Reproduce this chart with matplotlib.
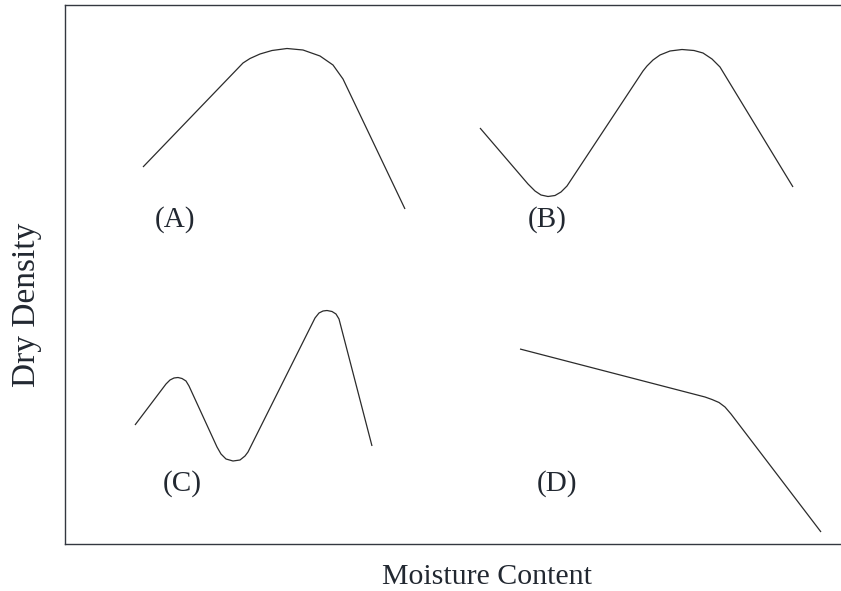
import matplotlib
matplotlib.use("Agg")
import matplotlib.pyplot as plt

plt.rcParams['font.family'] = ['Liberation Serif', 'DejaVu Serif']

# compaction curve shapes (arbitrary units)
a_x = [78, 178, 185, 195, 207, 222, 238, 255, 268, 278, 340]
a_y = [377, 481, 485.5, 490, 493.5, 495.5, 494, 488, 479, 465, 335]

b_x = [415, 463, 470, 476, 483, 490, 496, 502, 578, 582, 588, 595, 605, 617, 629, 638, 647, 655, 728]
b_y = [416, 360, 353, 349, 347.5, 348.5, 352, 358, 473, 478, 484, 489, 493, 494.5, 493.5, 491, 485, 477, 357]

c_x = [70, 101, 105, 109, 113, 117, 121, 124, 152, 156, 161, 168, 175, 180, 183,
       250, 254, 258, 262, 267, 271, 274, 307]
c_y = [119, 160, 164, 166, 166.5, 165.5, 163, 158, 97, 90, 85, 83, 84, 88, 92,
       226, 231, 233, 233.5, 232.5, 230, 225, 98]

d_x = [455, 640, 647, 654, 660, 666, 756]
d_y = [195, 147, 144.5, 141.5, 137, 130, 12]

labels = ['(A)', '(B)', '(C)', '(D)']
label_x = [110.5, 482.5, 117.5, 491.5]
label_y = [324, 324, 60, 60]

txt = '#222831'

fig = plt.figure(figsize=(8.41, 5.91), dpi=100)
ax = fig.add_axes([65 / 841, 47 / 591, 776 / 841, 539 / 591])

for xs, ys in [(a_x, a_y), (b_x, b_y), (c_x, c_y), (d_x, d_y)]:
    ax.plot(xs, ys, color='#2b2b2b', lw=0.9, solid_joinstyle='round', solid_capstyle='butt')

for lab, lx, ly in zip(labels, label_x, label_y):
    ax.text(lx, ly, lab, ha='center', va='center', fontsize=21, color=txt)

ax.set_xlim(0, 776)
ax.set_ylim(0, 539)
ax.set_xticks([])
ax.set_yticks([])
ax.spines['right'].set_visible(False)
for s in ['left', 'top', 'bottom']:
    ax.spines[s].set_color('#333840')
    ax.spines[s].set_linewidth(1.0)

ax.set_xlabel('Moisture Content', fontsize=21.5, color=txt)
ax.set_ylabel('Dry Density', fontsize=24, color=txt)
# the original figure's labels sit off the visible box centre
ax.xaxis.set_label_coords(0.544, -0.037, transform=ax.transAxes)
ax.xaxis.label.set_va('top')
ax.yaxis.set_label_coords(-0.03, 0.443, transform=ax.transAxes)

fig.savefig('out.png', dpi=100)
